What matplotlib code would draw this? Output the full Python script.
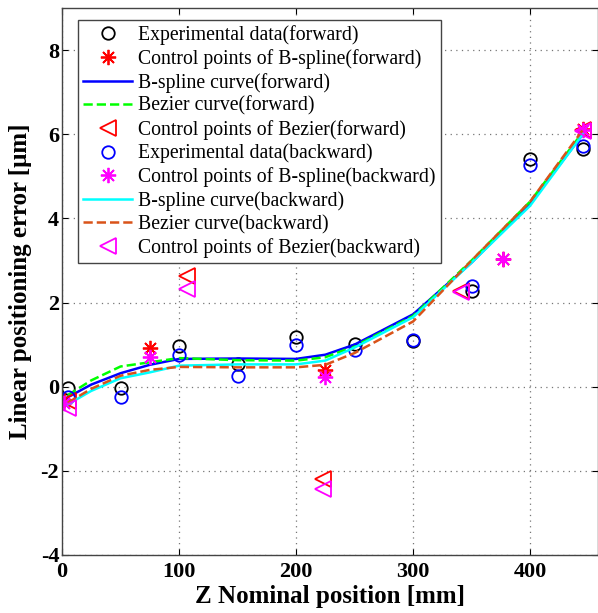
import matplotlib
matplotlib.use("Agg")
import matplotlib.pyplot as plt

# Measured positioning error, forward and backward runs
pos_exp = [5, 50, 100, 150, 200, 250, 300, 350, 400, 445]
err_fwd = [-0.04, -0.04, 0.96, 0.55, 1.17, 1.02, 1.08, 2.28, 5.40, 5.64]
err_bwd = [-0.24, -0.24, 0.75, 0.26, 1.00, 0.88, 1.10, 2.40, 5.26, 5.72]

# B-spline control points
bs_ctrl_x = [2, 75, 225, 377, 445]
bs_ctrl_fwd = [-0.32, 0.93, 0.40, 3.04, 6.12]
bs_ctrl_bwd = [-0.38, 0.70, 0.22, 3.04, 6.10]

# Bezier control points
bz_ctrl_x = [5, 107, 223, 341, 445]
bz_ctrl_fwd = [-0.35, 2.63, -2.19, 2.28, 6.10]
bz_ctrl_bwd = [-0.50, 2.32, -2.43, 2.24, 6.08]

# Fitted curves
curve_x = [5, 25, 50, 75, 100, 150, 200, 225, 250, 300, 350, 400, 445]
bspline_fwd = [-0.25, 0.05, 0.32, 0.52, 0.66, 0.67, 0.66, 0.76, 1.00, 1.72, 2.95, 4.35, 6.00]
bezier_fwd = [-0.20, 0.15, 0.48, 0.58, 0.68, 0.63, 0.62, 0.70, 0.96, 1.68, 3.00, 4.40, 6.05]
bspline_bwd = [-0.42, -0.10, 0.20, 0.34, 0.50, 0.53, 0.53, 0.62, 0.93, 1.65, 2.95, 4.30, 6.00]
bezier_bwd = [-0.38, -0.05, 0.26, 0.40, 0.47, 0.46, 0.46, 0.52, 0.80, 1.55, 3.00, 4.40, 6.10]

x_ticks = [0, 100, 200, 300, 400]
y_ticks = [-4, -2, 0, 2, 4, 6, 8]

serif = ["Liberation Serif", "DejaVu Serif"]
plt.rcParams["font.family"] = serif
plt.rcParams["axes.unicode_minus"] = False

fig = plt.figure(figsize=(5.98, 6.13), dpi=100)
ax = fig.add_axes([62 / 598, 1 - 555 / 613, 536 / 598, 547 / 613])

orange = "#d95319"
star = (8, 2, 0)

ax.plot(pos_exp, err_fwd, "o", mfc="none", mec="black", ms=9, mew=1.3,
        label="Experimental data(forward)")
ax.plot(bs_ctrl_x, bs_ctrl_fwd, ls="none", marker=star, mec="#ff0000", ms=11, mew=1.3,
        label="Control points of B-spline(forward)")
ax.plot(curve_x, bspline_fwd, "-", color="#0000ff", lw=1.8,
        label="B-spline curve(forward)")
ax.plot(curve_x, bezier_fwd, "--", color="#00ff00", lw=1.8,
        label="Bezier curve(forward)")
ax.plot(bz_ctrl_x, bz_ctrl_fwd, ls="none", marker="<", mfc="none", mec="#ff0000", ms=12, mew=1.3,
        label="Control points of Bezier(forward)")
ax.plot(pos_exp, err_bwd, "o", mfc="none", mec="#0000ff", ms=9, mew=1.3,
        label="Experimental data(backward)")
ax.plot(bs_ctrl_x, bs_ctrl_bwd, ls="none", marker=star, mec="#ff00ff", ms=11, mew=1.3,
        label="Control points of B-spline(backward)")
ax.plot(curve_x, bspline_bwd, "-", color="#00ffff", lw=1.8,
        label="B-spline curve(backward)")
ax.plot(curve_x, bezier_bwd, "--", color=orange, lw=1.8,
        label="Bezier curve(backward)")
ax.plot(bz_ctrl_x, bz_ctrl_bwd, ls="none", marker="<", mfc="none", mec="#ff00ff", ms=12, mew=1.3,
        label="Control points of Bezier(backward)")

ax.set_xlim(0, 458)
ax.set_ylim(-4, 9)
ax.set_xticks(x_ticks)
ax.set_yticks(y_ticks)
ax.grid(True, ls=(0, (1, 3.5)), color="#777777", lw=0.9)
ax.tick_params(direction="in", top=True, right=True, length=4, width=0.8,
               labelsize=16)
ax.tick_params(axis="x", pad=5)
ax.tick_params(axis="y", pad=2)
for lab in ax.get_xticklabels() + ax.get_yticklabels():
    lab.set_fontweight("bold")
for sp in ax.spines.values():
    sp.set_color("#444444")
    sp.set_linewidth(1.0)

ax.set_xlabel("Z Nominal position [mm]", fontsize=18, fontweight="bold", labelpad=2)
ax.set_ylabel("Linear positioning error [\u03bcm]", fontsize=18, fontweight="bold", labelpad=6)

leg = ax.legend(loc="upper left", bbox_to_anchor=(0.03, 0.978), fontsize=14.2,
                frameon=True, fancybox=False, edgecolor="#444444", framealpha=1,
                handlelength=2.5, handletextpad=0.3, labelspacing=0.2,
                borderpad=0.25, borderaxespad=0)
leg.get_frame().set_linewidth(1.0)

fig.savefig("out.png", dpi=100)
